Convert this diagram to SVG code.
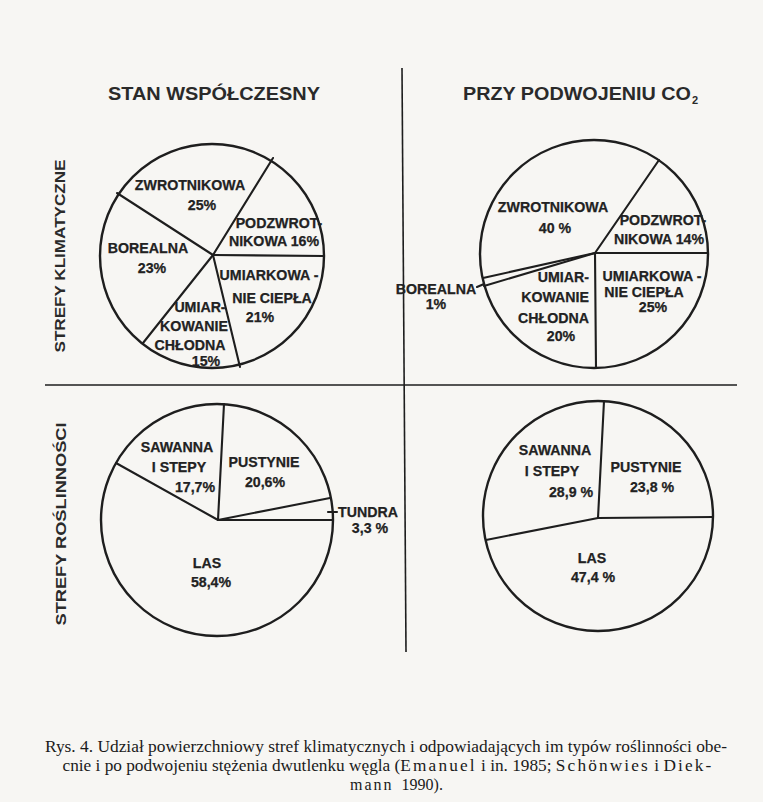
<svg xmlns="http://www.w3.org/2000/svg" width="763" height="802" viewBox="0 0 763 802">
<style>
.bg{fill:#f7f6f3}
.pie{fill:none;stroke:#1e1e1e;stroke-width:2.4}
.sl{stroke:#1e1e1e;stroke-width:2.1;fill:none;stroke-linecap:round}
.sep{stroke:#1e1e1e;stroke-width:1.6;fill:none}
.lb{font-family:"Liberation Sans",Arial,sans-serif;font-weight:bold;font-size:14.2px;fill:#222;stroke:#222;stroke-width:0.25;text-anchor:middle}
.hd{font-family:"Liberation Sans",Arial,sans-serif;font-weight:bold;font-size:18px;fill:#2a2a2a}
.sub{font-size:11px}
.sd{font-family:"Liberation Sans",Arial,sans-serif;font-weight:bold;font-size:14px;fill:#2a2a2a;text-anchor:middle}
.cap{font-family:"Liberation Serif","Times New Roman",serif;font-size:16px;fill:#1a1a1a;text-anchor:middle}
.capl{font-family:"Liberation Serif","Times New Roman",serif;font-size:16px;fill:#1a1a1a}
.ls{letter-spacing:2px}
</style>
<rect class="bg" x="0" y="0" width="763" height="802"/>

<g id="headers">
<text class="hd" x="108" y="100" textLength="212" lengthAdjust="spacingAndGlyphs">STAN  WSPÓŁCZESNY</text>
<text class="hd" x="463" y="100" textLength="228" lengthAdjust="spacingAndGlyphs">PRZY  PODWOJENIU  CO</text>
<text class="hd sub" x="692" y="104">2</text>
</g>

<g id="side-labels">
<text class="sd" transform="translate(65,256) rotate(-90)" textLength="193" lengthAdjust="spacingAndGlyphs">STREFY  KLIMATYCZNE</text>
<text class="sd" transform="translate(66,524) rotate(-90)" textLength="203" lengthAdjust="spacingAndGlyphs">STREFY  ROŚLINNOŚCI</text>
</g>

<g id="connectors">
<line class="sep" x1="402" y1="68" x2="406" y2="652"/>
<line class="sep" x1="45" y1="385" x2="737" y2="385"/>
</g>

<g id="pie-climate-now">
<circle class="pie" cx="212" cy="256" r="112"/>
<line class="sl" x1="213" y1="255" x2="273" y2="158"/>
<line class="sl" x1="213" y1="255" x2="117" y2="193"/>
<line class="sl" x1="213" y1="255" x2="324" y2="256"/>
<line class="sl" x1="213" y1="255" x2="143" y2="343"/>
<line class="sl" x1="213" y1="255" x2="240" y2="367"/>
<text class="lb" x="190" y="190">ZWROTNIKOWA</text>
<text class="lb" x="202" y="210">25%</text>
<text class="lb" x="279" y="228">PODZWROT-</text>
<text class="lb" x="274" y="246">NIKOWA 16%</text>
<text class="lb" x="148" y="253">BOREALNA</text>
<text class="lb" x="152" y="273">23%</text>
<text class="lb" x="269" y="280">UMIARKOWA -</text>
<text class="lb" x="272" y="303">NIE CIEPŁA</text>
<text class="lb" x="260" y="322">21%</text>
<text class="lb" x="200" y="312">UMIAR-</text>
<text class="lb" x="194" y="331">KOWANIE</text>
<text class="lb" x="190" y="350">CHŁODNA</text>
<text class="lb" x="206" y="366">15%</text>
</g>

<g id="pie-climate-co2">
<circle class="pie" cx="594" cy="254" r="114"/>
<line class="sl" x1="595" y1="253" x2="659" y2="160"/>
<line class="sl" x1="595" y1="253" x2="708" y2="253"/>
<line class="sl" x1="595" y1="253" x2="596" y2="368"/>
<line class="sl" x1="595" y1="253" x2="483" y2="278"/>
<line class="sl" x1="595" y1="253" x2="484" y2="286"/>
<line class="sl" x1="477" y1="287" x2="484" y2="284" stroke-width="1.5"/>
<text class="lb" x="553" y="212">ZWROTNIKOWA</text>
<text class="lb" x="555" y="233">40 %</text>
<text class="lb" x="663" y="225">PODZWROT-</text>
<text class="lb" x="659" y="244">NIKOWA 14%</text>
<text class="lb" x="652" y="281">UMIARKOWA -</text>
<text class="lb" x="644" y="297">NIE CIEPŁA</text>
<text class="lb" x="653" y="312">25%</text>
<text class="lb" x="589" y="282" style="text-anchor:end">UMIAR-</text>
<text class="lb" x="589" y="302" style="text-anchor:end">KOWANIE</text>
<text class="lb" x="589" y="323" style="text-anchor:end">CHŁODNA</text>
<text class="lb" x="561" y="341">20%</text>
<text class="lb" x="436" y="294">BOREALNA</text>
<text class="lb" x="436" y="309">1%</text>
</g>

<g id="pie-veg-now">
<circle class="pie" cx="217" cy="520" r="116"/>
<line class="sl" x1="218" y1="520" x2="224" y2="404"/>
<line class="sl" x1="218" y1="520" x2="116" y2="463"/>
<line class="sl" x1="218" y1="520" x2="330" y2="498"/>
<line class="sl" x1="218" y1="520" x2="333" y2="520"/>
<line class="sl" x1="328" y1="512" x2="337" y2="512" stroke-width="1.5"/>
<text class="lb" x="177" y="452">SAWANNA</text>
<text class="lb" x="179" y="472">I STEPY</text>
<text class="lb" x="195" y="492">17,7%</text>
<text class="lb" x="264" y="467">PUSTYNIE</text>
<text class="lb" x="265" y="487">20,6%</text>
<text class="lb" x="368" y="517">TUNDRA</text>
<text class="lb" x="370" y="533">3,3 %</text>
<text class="lb" x="207" y="568">LAS</text>
<text class="lb" x="211" y="587">58,4%</text>
</g>

<g id="pie-veg-co2">
<circle class="pie" cx="598" cy="516" r="115"/>
<line class="sl" x1="598" y1="518" x2="604" y2="401"/>
<line class="sl" x1="598" y1="518" x2="713" y2="517"/>
<line class="sl" x1="598" y1="518" x2="486" y2="540"/>
<text class="lb" x="555" y="455">SAWANNA</text>
<text class="lb" x="552" y="476">I STEPY</text>
<text class="lb" x="571" y="497">28,9 %</text>
<text class="lb" x="646" y="472">PUSTYNIE</text>
<text class="lb" x="652" y="492">23,8 %</text>
<text class="lb" x="592" y="563">LAS</text>
<text class="lb" x="593" y="582">47,4 %</text>
</g>

<g id="caption">
<text class="cap" x="386" y="752" textLength="682" lengthAdjust="spacingAndGlyphs">Rys. 4. Udział powierzchniowy stref klimatycznych i odpowiadających im typów roślinności obe-</text>
<text class="cap" x="388" y="771" textLength="651" lengthAdjust="spacingAndGlyphs">cnie i po podwojeniu stężenia dwutlenku węgla (<tspan class="ls">Emanuel</tspan> i in. 1985;  <tspan class="ls">Schönwies</tspan> i <tspan class="ls">Diek-</tspan></text>
<text class="capl" x="350" y="790"><tspan class="ls">mann</tspan><tspan dx="8">1990).</tspan></text>
</g>
</svg>
